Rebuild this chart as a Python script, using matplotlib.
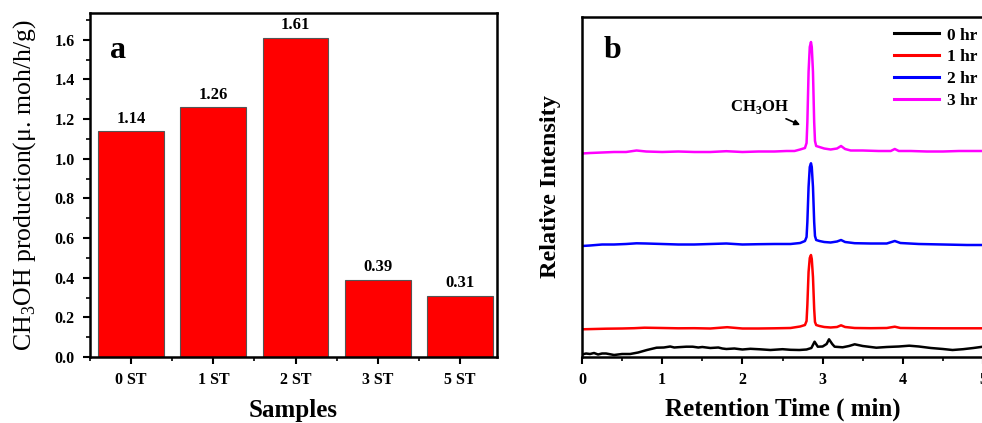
import matplotlib
matplotlib.use("Agg")
import matplotlib.pyplot as plt
from matplotlib.ticker import MultipleLocator, FixedLocator

plt.rcParams['font.family'] = ['Liberation Serif', 'DejaVu Serif']
plt.rcParams['mathtext.fontset'] = 'custom'
plt.rcParams['mathtext.rm'] = 'Liberation Serif'
plt.rcParams['mathtext.bf'] = 'Liberation Serif:bold'

# ---------------- data: panel a ----------------
samples = ["0 ST", "1 ST", "2 ST", "3 ST", "5 ST"]
production = [1.14, 1.26, 1.61, 0.39, 0.31]

# ---------------- data: panel b ----------------
series_labels = ["0 hr", "1 hr", "2 hr", "3 hr"]
series_colors = ["#000000", "#FF0000", "#0000FF", "#FF00FF"]

t_0hr = [0.00, 0.05, 0.10, 0.15, 0.20, 0.25, 0.30, 0.40, 0.50, 0.60, 0.70, 0.81, 0.93, 1.02,
         1.10, 1.15, 1.20, 1.30, 1.38, 1.45, 1.50, 1.60, 1.70, 1.75, 1.80, 1.90, 2.00, 2.10,
         2.22, 2.35, 2.50, 2.60, 2.71, 2.80, 2.86, 2.90, 2.94, 3.00, 3.05, 3.08, 3.12, 3.15,
         3.25, 3.33, 3.40, 3.50, 3.67, 3.80, 3.95, 4.08, 4.20, 4.35, 4.50, 4.62, 4.75, 4.88,
         5.00]
y_0hr = [2.5, 3.5, 3.0, 4.0, 2.5, 3.5, 3.5, 2.0, 3.0, 3.0, 4.5, 7.0, 9.3, 9.5,
         10.5, 9.5, 9.8, 10.3, 10.3, 9.5, 10.0, 9.0, 9.5, 8.5, 8.0, 8.5, 7.5, 8.2,
         7.7, 7.0, 7.8, 7.2, 7.0, 7.5, 9.0, 15.3, 10.3, 10.5, 13.0, 17.7, 13.0, 10.3,
         9.7, 11.0, 12.7, 11.0, 9.3, 10.0, 10.5, 11.3, 10.5, 9.0, 8.0, 7.0, 7.8, 9.0,
         10.3]

t_1hr = [0.00, 0.15, 0.30, 0.50, 0.65, 0.78, 1.00, 1.20, 1.40, 1.60, 1.81, 2.00, 2.20, 2.40,
         2.60, 2.72, 2.78, 2.80, 2.81, 2.825, 2.84, 2.855, 2.865, 2.88, 2.895, 2.905, 2.92,
         2.96, 3.02, 3.10, 3.18, 3.23, 3.28, 3.40, 3.60, 3.80, 3.90, 3.97, 4.20, 4.50, 4.80,
         5.00]
y_1hr = [27.7, 28.0, 28.3, 28.5, 28.8, 29.3, 29.0, 28.7, 28.8, 28.5, 29.8, 28.5, 28.5, 28.7,
         29.0, 30.5, 32.0, 36.0, 52.0, 85.0, 99.0, 102.0, 98.0, 80.0, 48.0, 35.0, 32.0,
         31.0, 30.0, 29.5, 30.0, 31.7, 30.0, 29.0, 28.8, 29.0, 30.3, 29.0, 28.8, 28.7, 28.7,
         28.7]

t_2hr = [0.00, 0.10, 0.25, 0.40, 0.55, 0.68, 0.80, 1.00, 1.20, 1.40, 1.60, 1.80, 2.00, 2.20,
         2.40, 2.60, 2.72, 2.78, 2.80, 2.81, 2.825, 2.84, 2.855, 2.865, 2.88, 2.895, 2.905,
         2.92, 2.96, 3.02, 3.10, 3.18, 3.23, 3.28, 3.40, 3.60, 3.80, 3.90, 3.97, 4.20, 4.50,
         4.80, 5.00]
y_2hr = [111.0, 111.5, 112.5, 112.5, 113.0, 113.7, 113.5, 113.0, 112.5, 112.5, 113.0, 113.5,
         112.5, 112.8, 113.0, 113.0, 114.0, 116.0, 120.0, 135.0, 170.0, 190.0, 193.7, 190.0,
         170.0, 135.0, 121.0, 117.0, 116.0, 115.0, 114.5, 115.5, 117.0, 115.0, 113.8, 113.5,
         113.5, 116.0, 114.0, 113.0, 112.5, 112.0, 112.0]

t_3hr = [0.00, 0.10, 0.25, 0.40, 0.55, 0.68, 0.80, 1.00, 1.20, 1.40, 1.60, 1.80, 2.00, 2.20,
         2.40, 2.55, 2.65, 2.72, 2.78, 2.80, 2.81, 2.825, 2.84, 2.855, 2.865, 2.88, 2.895,
         2.905, 2.92, 2.96, 3.02, 3.10, 3.18, 3.23, 3.28, 3.35, 3.50, 3.70, 3.85, 3.90, 3.95,
         4.10, 4.30, 4.50, 4.70, 4.85, 5.00]
y_3hr = [203.5, 204.0, 204.5, 205.0, 205.0, 206.5, 205.5, 205.0, 205.5, 205.0, 205.0, 205.8,
         205.0, 205.5, 205.5, 206.0, 206.0, 207.5, 209.0, 214.0, 235.0, 285.0, 310.0, 315.0,
         310.0, 285.0, 235.0, 216.0, 211.0, 210.0, 208.5, 207.5, 208.5, 211.0, 208.0, 206.5,
         206.5, 206.0, 206.0, 208.0, 206.0, 206.0, 205.5, 205.5, 206.0, 206.0, 206.0]

traces_t = [t_0hr, t_1hr, t_2hr, t_3hr]
traces_y = [y_0hr, y_1hr, y_2hr, y_3hr]

# ---------------- figure ----------------
fig = plt.figure(figsize=(9.82, 4.23), dpi=100)

W, H = 982.0, 423.0
ax1 = fig.add_axes([90 / W, (H - 357) / H, (497 - 90) / W, (357 - 13) / H])
ax2 = fig.add_axes([582 / W, (H - 357) / H, (983 - 582) / W, (357 - 17) / H])

spine_w = 1.8

# ----- panel a -----
xpos = list(range(len(samples)))
ax1.bar(xpos, production, width=0.8, color="#FF0000", edgecolor="#555555", linewidth=0.8,
        zorder=2)
for xi, v in zip(xpos, production):
    ax1.text(xi, v + 0.022, f"{v:.2f}", ha="center", va="bottom", fontsize=12,
             fontweight="bold")
ax1.set_xlim(-0.5, 4.45)
ax1.set_ylim(0, 1.735)
ax1.set_xticks(xpos)
ax1.set_xticklabels(samples, fontsize=11.5, fontweight="bold")
ax1.xaxis.set_minor_locator(FixedLocator([-0.5, 0.5, 1.5, 2.5, 3.5]))
ax1.yaxis.set_minor_locator(MultipleLocator(0.1))
yt = [0.0, 0.2, 0.4, 0.6, 0.8, 1.0, 1.2, 1.4, 1.6]
ax1.set_yticks(yt)
ax1.set_yticklabels([f"{v:.1f}" for v in yt], fontsize=11.5, fontweight="bold")
ax1.tick_params(which="major", direction="out", length=5, width=1.5, pad=6)
ax1.tick_params(which="minor", direction="out", length=3, width=1.2)
for s in ax1.spines.values():
    s.set_linewidth(spine_w)
ax1.set_xlabel("Samples", fontsize=18, fontweight="bold", labelpad=8)
ax1.set_ylabel(r"CH$_3$OH production($\mathrm{\mu}$. moh/h/g)", fontsize=18.5,
               labelpad=12)
ax1.text(0.07, 0.89, "a", transform=ax1.transAxes, fontsize=23, fontweight="bold",
         ha="center", va="center")

# ----- panel b -----
for tt, yy, lab, col in zip(traces_t, traces_y, series_labels, series_colors):
    ax2.plot(tt, yy, color=col, lw=1.8, label=lab)
ax2.set_xlim(0, 5)
ax2.set_ylim(0, 340)
ax2.set_yticks([])
ax2.xaxis.set_minor_locator(MultipleLocator(0.5))
ax2.set_xticks([0, 1, 2, 3, 4, 5])
ax2.set_xticklabels(["0", "1", "2", "3", "4", "5"], fontsize=11.5, fontweight="bold")
ax2.tick_params(which="major", direction="out", length=5, width=1.5, pad=6)
ax2.tick_params(which="minor", direction="out", length=3, width=1.2)
for s in ax2.spines.values():
    s.set_linewidth(spine_w)
ax2.set_xlabel("Retention Time ( min)", fontsize=18, fontweight="bold", labelpad=7)
ax2.set_ylabel("Relative Intensity", fontsize=17.5, fontweight="bold", labelpad=15)
ax2.text(0.075, 0.90, "b", transform=ax2.transAxes, fontsize=23, fontweight="bold",
         ha="center", va="center")
ax2.annotate(r"CH$_{\mathbf{3}}$OH", xy=(2.72, 232), xytext=(2.21, 250),
             fontsize=12, fontweight="bold", ha="center", va="center",
             arrowprops=dict(arrowstyle="-|>", color="black", lw=1.2,
                             mutation_scale=8, shrinkA=18, shrinkB=0))
leg = ax2.legend(loc="upper right", bbox_to_anchor=(1.012, 1.0), frameon=False,
                 prop=dict(size=12.5, weight="bold"), handlelength=2.6,
                 handletextpad=0.45, labelspacing=0.33, borderaxespad=0.2)
for line in leg.get_lines():
    line.set_linewidth(2.2)

fig.savefig("out.png", dpi=100)
